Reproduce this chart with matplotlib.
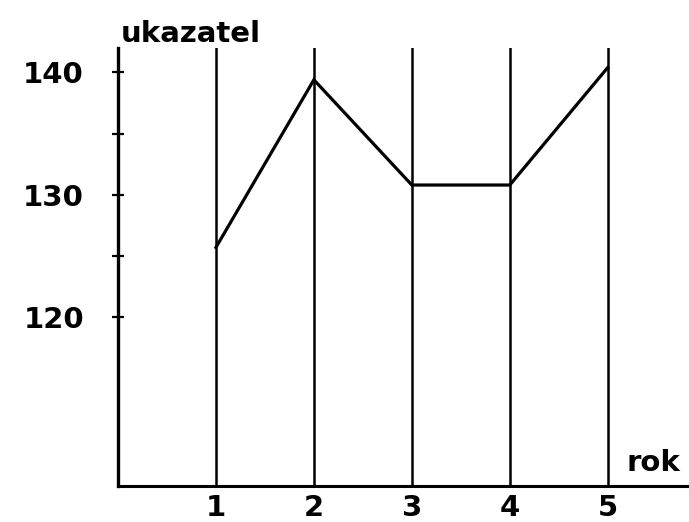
import matplotlib
matplotlib.use("Agg")
import matplotlib.pyplot as plt

# index values per year
years = [1, 2, 3, 4, 5]
values = [125.7, 139.4, 130.8, 130.8, 140.4]
major_ticks = [120, 130, 140]
minor_ticks = [125, 135]

plt.rcParams['font.family'] = ['DejaVu Sans']
plt.rcParams['font.weight'] = 'bold'

fig = plt.figure(figsize=(6.89, 5.22), dpi=100)
ax = fig.add_axes([118 / 689, 36 / 522, 1 - 118 / 689, 438 / 522])

for x in years:
    ax.axvline(x, color='black', lw=1.8)
ax.plot(years, values, color='black', lw=2.3, solid_joinstyle='miter')

ax.set_xlim(0, 5.83)
ax.set_ylim(106.2, 142.0)

for side in ['top', 'right']:
    ax.spines[side].set_visible(False)
ax.spines['left'].set_linewidth(2.4)
ax.spines['bottom'].set_linewidth(2.2)

ax.set_yticks(major_ticks)
ax.set_yticks(minor_ticks, minor=True)
ax.tick_params(axis='y', which='both', direction='inout', length=9, width=1.6,
               labelsize=21, pad=20)
ax.set_xticks(years)
ax.tick_params(axis='x', length=0, labelsize=21, pad=6)

ax.text(0.005, 1.0, 'ukazatel', transform=ax.transAxes, fontsize=21,
        ha='left', va='bottom')
ax.text(5.19, 106.9, 'rok', fontsize=21, ha='left', va='bottom')

fig.savefig('out.png', dpi=100)
